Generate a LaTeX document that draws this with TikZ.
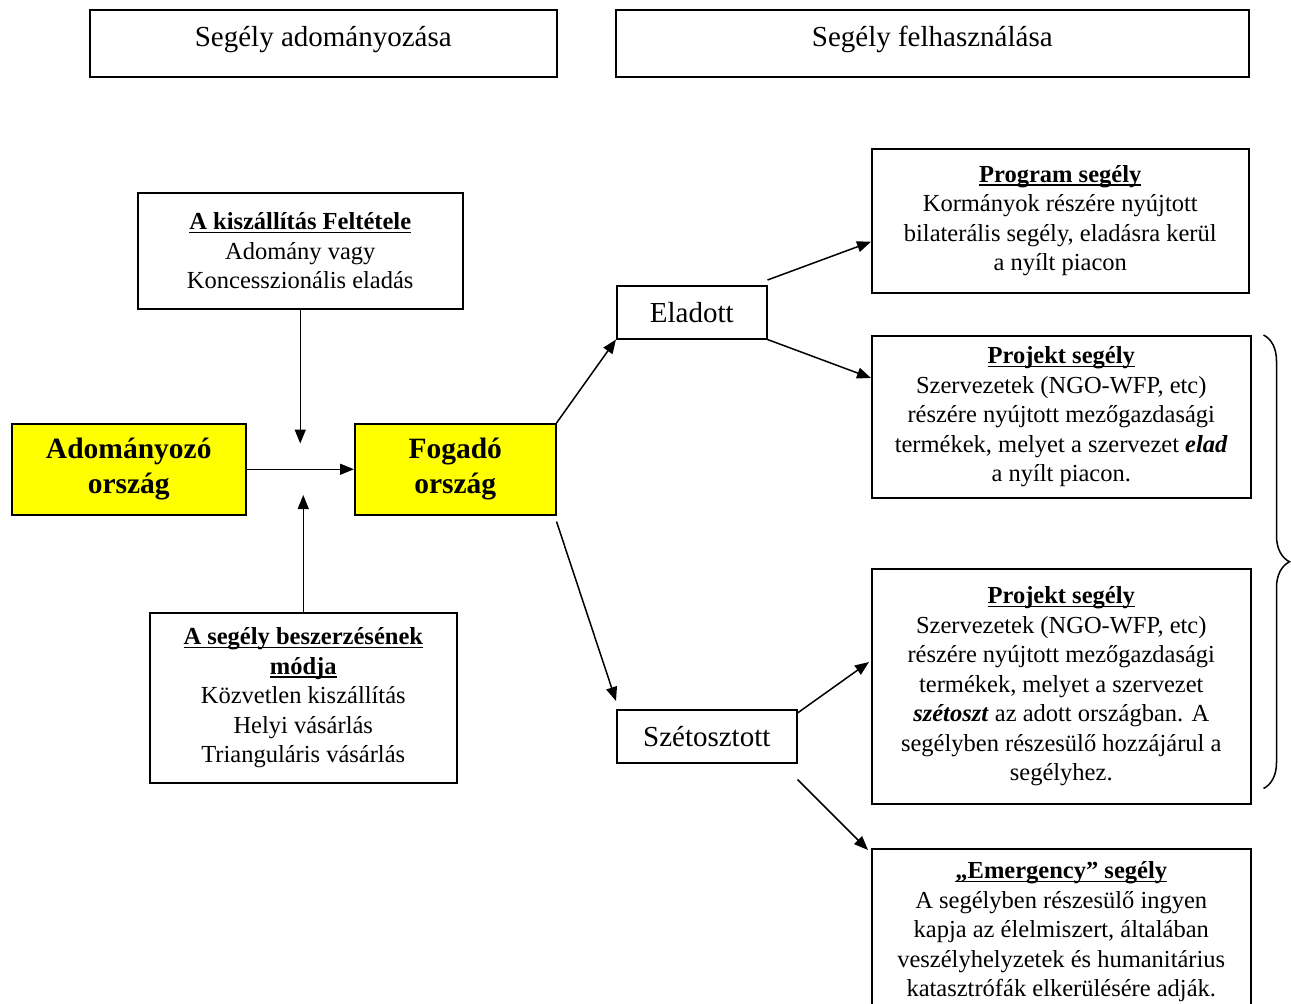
\documentclass[tikz,border=0pt]{standalone}
\usepackage{fontspec}
\setmainfont{Liberation Serif}
\usetikzlibrary{arrows.meta,calc,decorations.pathreplacing}
\definecolor{hiyellow}{RGB}{255,255,0}
% bold heading with a rule close under the baseline
\newcommand\uhead[1]{\setbox0\hbox{\bfseries #1}\rlap{\rule[-3.5pt]{\wd0}{1.6pt}}\box0}
% text lifted inside its box without changing the box size
\newcommand\lifttext[2]{\raisebox{#1}[\height][\depth]{#2}}
\tikzset{
  box/.style={draw, line width=1.5pt, align=center, inner sep=0pt, anchor=north west,
    font=\fontsize{24.5}{29.5}\selectfont},
  bigbox/.style={box, font=\fontsize{29}{34}\selectfont},
  country/.style={bigbox, fill=hiyellow, font=\fontsize{29.5}{35}\selectfont\bfseries},
  flow/.style={line width=1.5pt, -{Triangle[length=14pt,width=11pt]}}
}
\begin{document}
\begin{tikzpicture}[x=1pt,y=-1pt]
\useasboundingbox (0,0) rectangle (1291,1004);

% column headings
\node[bigbox, minimum width=467pt, minimum height=67pt] (hgive) at (89,9) {\lifttext{4pt}{Segély adományozása}};
\node[bigbox, minimum width=633pt, minimum height=67pt] (huse) at (615,9) {\lifttext{4pt}{Segély felhasználása}};

% countries
\node[country, minimum width=234pt, minimum height=91pt] (donor) at (11,423) {Adományozó\\ország};
\node[country, minimum width=201pt, minimum height=91pt] (recv) at (354,423) {Fogadó\\ország};

% conditions
\node[box, minimum width=325pt, minimum height=116pt] (terms) at (137,192)
  {\uhead{A kiszállítás Feltétele}\\ Adomány vagy\\ Koncesszionális eladás};
\node[box, minimum width=307pt, minimum height=170pt] (proc) at (149,612)
  {\uhead{A segély beszerzésének}\\ \uhead{módja}\\ Közvetlen kiszállítás\\ Helyi vásárlás\\ Trianguláris vásárlás};

% usage
\node[bigbox, minimum width=150pt, minimum height=53pt] (sold) at (616,285) {Eladott};
\node[bigbox, minimum width=180pt, minimum height=53pt] (dist) at (616,709) {Szétosztott};

\node[box, minimum width=377pt, minimum height=144pt] (prog) at (871,148)
  {\uhead{Program segély}\\ Kormányok részére nyújtott\\ bilaterális segély, eladásra kerül\\ a nyílt piacon};
\node[box, minimum width=379pt, minimum height=162pt] (proj1) at (871,335)
  {\uhead{Projekt segély}\\ Szervezetek (NGO-WFP, etc)\\ részére nyújtott mezőgazdasági\\ termékek, melyet a szervezet \textbf{\textit{elad}}\\ a nyílt piacon.};
\node[box, minimum width=379pt, minimum height=235pt] (proj2) at (871,568)
  {\uhead{Projekt segély}\\ Szervezetek (NGO-WFP, etc)\\ részére nyújtott mezőgazdasági\\ termékek, melyet a szervezet\\ \textbf{\textit{szétoszt}} az adott országban. A\\ segélyben részesülő hozzájárul a\\ segélyhez.};
\node[box, minimum width=379pt, minimum height=166pt] (emer) at (871,848)
  {\uhead{„Emergency” segély}\\ A segélyben részesülő ingyen\\ kapja az élelmiszert, általában\\ veszélyhelyzetek és humanitárius\\ katasztrófák elkerülésére adják.};

% arrows
\draw[flow] (donor.east) -- (recv.west);
\draw[flow] (terms.south) -- ($(terms.south)+(0,134)$);
\draw[flow] (proc.north) -- ($(proc.north)+(0,-117)$);
\draw[flow] (recv.north east) -- (sold.south west);
\draw[flow] ($(recv.south east)+(0,6)$) -- ($(dist.north west)+(0,-8)$);
\draw[flow] ($(sold.north east)+(0,-5)$) -- ($(prog.west)+(0,21)$);
\draw[flow] (sold.south east) -- ($(proj1.north west)+(0,43)$);
\draw[flow] ($(dist.north east)+(0,4)$) -- ($(proj2.north west)+(-2,94)$);
\draw[flow] ($(dist.south east)+(0,16)$) -- ($(emer.north west)+(-3,2)$);

% brace grouping both project boxes
\draw[line width=1.5pt, decorate, decoration={brace, amplitude=26pt}]
  ($(proj1.north east)+(12,0)$) -- ($(proj2.south east)+(12,-16)$);
\end{tikzpicture}
\end{document}
